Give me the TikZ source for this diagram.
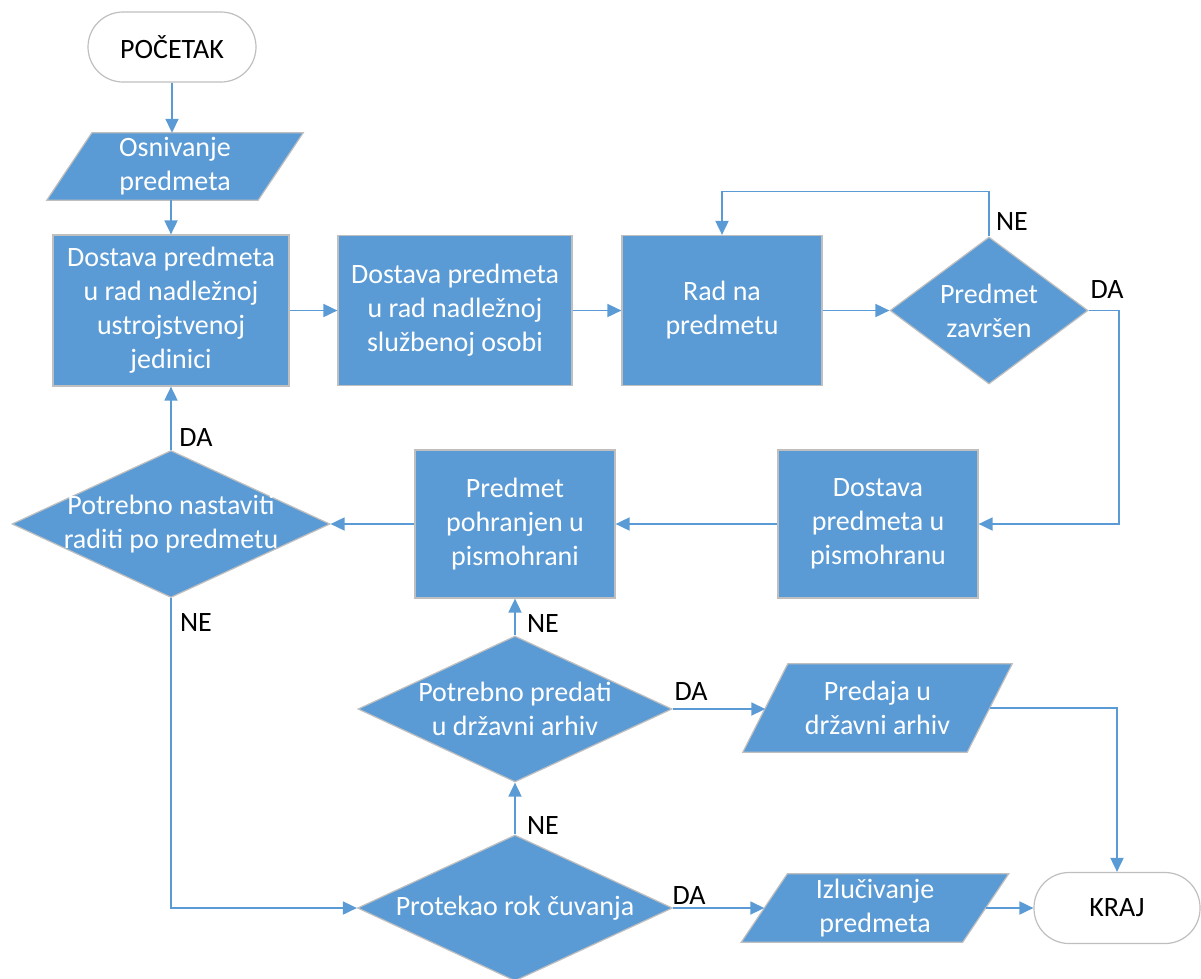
\documentclass[tikz,border=0pt]{standalone}
\usepackage{fontspec}
\setmainfont{Carlito}
\usetikzlibrary{shapes.geometric,arrows.meta,backgrounds,calc}
\definecolor{fillblue}{HTML}{5B9BD5}
\definecolor{lineblue}{HTML}{5B9BD5}
\definecolor{edgegray}{HTML}{BFBFBF}
\begin{document}
\begin{tikzpicture}[x=1pt,y=-1pt,
  every node/.style={font=\fontsize{28}{34}\selectfont},
  proc/.style={rectangle, fill=fillblue, draw=edgegray, line width=1.2pt, text=white, align=center, inner sep=0pt},
  term/.style={rectangle, rounded corners=35pt, fill=white, draw=edgegray, line width=1.2pt, text=black, align=center, inner sep=0pt},
  dia/.style={diamond, fill=fillblue, draw=edgegray, line width=1.2pt, inner sep=0pt},
  txt/.style={text=white, align=center, inner sep=0pt},
  io/.style={rectangle, text=white, align=center, inner sep=0pt},
  iofill/.style={fill=fillblue, draw=edgegray, line width=1.2pt},
  lbl/.style={text=black, inner sep=0pt},
  conn/.style={draw=lineblue, line width=1.8pt, -{Triangle[length=14pt,width=13pt]}},
]
\useasboundingbox (0,0) rectangle (1201,978);
\clip (0,0) rectangle (1201,978);

\node[term, minimum width=168pt, minimum height=70pt] (start) at (172,47) {POČETAK};
\node[io, minimum width=211pt, minimum height=67pt] (osn) at (175,166.5) {Osnivanje\\predmeta};
\node[proc, minimum width=236pt, minimum height=151pt] (b1) at (171,310.5) {Dostava predmeta\\u rad nadležnoj\\ustrojstvenoj\\jedinici};
\node[proc, minimum width=234pt, minimum height=150pt] (b2) at (455,310.5) {Dostava predmeta\\u rad nadležnoj\\službenoj osobi};
\node[proc, minimum width=200pt, minimum height=150pt] (b3) at (722,310.5) {Rad na\\predmetu};
\node[dia, minimum width=198pt, minimum height=147pt] (d1) at (989,310.5) {};
\node[txt] (d1t) at (d1.center) {Predmet\\završen};
\node[proc, minimum width=200pt, minimum height=148pt] (b4) at (878,524) {Dostava\\predmeta u\\pismohranu};
\node[proc, minimum width=200pt, minimum height=148pt] (b5) at (515,524) {Predmet\\pohranjen u\\pismohrani};
\node[dia, minimum width=318pt, minimum height=147pt] (d2) at (171,524) {};
\node[txt] (d2t) at (d2.center) {Potrebno nastaviti\\raditi po predmetu};
\node[dia, minimum width=314pt, minimum height=146pt] (d4) at (515,709) {};
\node[txt] (d4t) at (d4.center) {Potrebno predati\\u državni arhiv};
\node[dia, minimum width=315pt, minimum height=146pt] (d3) at (515,908) {};
\node[txt] (d3t) at (d3.center) {Protekao rok čuvanja};
\node[io, minimum width=224pt, minimum height=88pt] (p1) at (877.5,708) {Predaja u\\državni arhiv};
\node[io, minimum width=221pt, minimum height=68pt] (p2) at (875,908) {Izlučivanje\\predmeta};
\node[term, minimum width=166pt, minimum height=71pt] (end) at (1117,908) {KRAJ};

\begin{scope}[on background layer]
\path[iofill] ([xshift=-22.5pt]osn.south west) -- ([xshift=22.5pt]osn.north west) -- ([xshift=22.5pt]osn.north east) -- ([xshift=-22.5pt]osn.south east) -- cycle;
\path[iofill] ([xshift=-22.5pt]p1.south west) -- ([xshift=22.5pt]p1.north west) -- ([xshift=22.5pt]p1.north east) -- ([xshift=-22.5pt]p1.south east) -- cycle;
\path[iofill] ([xshift=-23pt]p2.south west) -- ([xshift=23pt]p2.north west) -- ([xshift=23pt]p2.north east) -- ([xshift=-23pt]p2.south east) -- cycle;
\end{scope}

\draw[conn] (start.south) -- (start.south |- osn.north);
\draw[conn] (b1.north |- osn.south) -- (b1.north);
\draw[conn] (b1.east) -- (b2.west);
\draw[conn] (b2.east) -- (b3.west);
\draw[conn] (b3.east) -- (d1.west);
\draw[conn] (d1.north) -- ++(0,-45) -| (b3.north);
\draw[conn] (d1.east) -- ++(30,0) |- (b4.east);
\draw[conn] (b4.west) -- (b5.east);
\draw[conn] (b5.west) -- (d2.east);
\draw[conn] (d2.north) -- (b1.south);
\draw[conn] (d2.south) |- (d3.west);
\draw[conn] (d3.north) -- (d4.south);
\draw[conn] (d4.north) -- (b5.south);
\draw[conn] (d4.east) -- (d4.east -| p1.west);
\draw[conn] (p1.east) -| (end.north);
\draw[conn] (d3.east) -- (p2.west);
\draw[conn] (p2.east) -- (end.west);

\node[lbl] (l1) at (1012,222) {NE};
\node[lbl] (l2) at (1107,290) {DA};
\node[lbl] (l3) at (196,438) {DA};
\node[lbl] (l4) at (196,623) {NE};
\node[lbl] (l5) at (543,624) {NE};
\node[lbl] (l6) at (691,692) {DA};
\node[lbl] (l7) at (543,826) {NE};
\node[lbl] (l8) at (689,895) {DA};
\end{tikzpicture}
\end{document}
